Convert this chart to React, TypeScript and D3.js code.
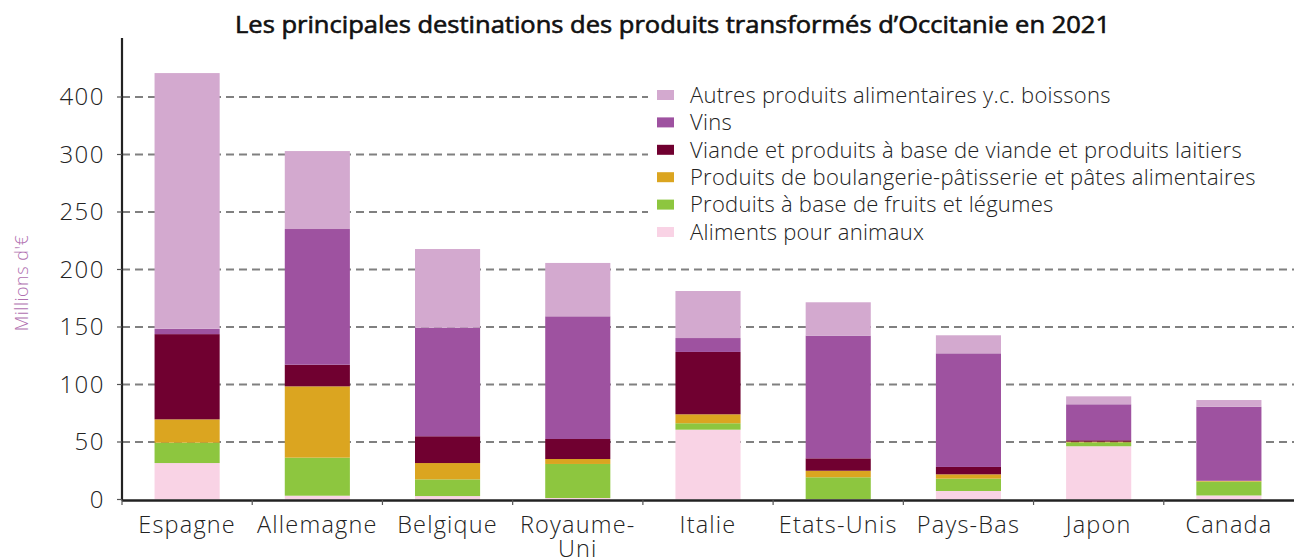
import React from "react";
import * as d3 from "d3";

const categories = ["Espagne", "Allemagne", "Belgique", "Royaume-Uni", "Italie", "Etats-Unis", "Pays-Bas", "Japon", "Canada"];
const categoryLabels = [["Espagne"], ["Allemagne"], ["Belgique"], ["Royaume-", "Uni"], ["Italie"], ["Etats-Unis"], ["Pays-Bas"], ["Japon"], ["Canada"]];

const seriesNames = [
  "Aliments pour animaux",
  "Produits à base de fruits et légumes",
  "Produits de boulangerie-pâtisserie et pâtes alimentaires",
  "Viande et produits à base de viande et produits laitiers",
  "Vins",
  "Autres produits alimentaires y.c. boissons",
];
const seriesColors = ["#f9d3e5", "#8dc63f", "#dba520", "#700030", "#9e52a0", "#d3a9cf"];

const aliments = [31.7, 3.3, 3, 1.3, 60.7, 0.3, 7.4, 46.3, 3.5];
const fruits = [17.7, 33.1, 14.5, 29.6, 5.6, 19.0, 10.7, 3.4, 12.1];
const boulangerie = [20.3, 62.0, 14.2, 4.3, 7.8, 5.7, 3.8, 0.6, 0.5];
const viande = [74.1, 18.8, 23.3, 17.4, 54.2, 10.8, 6.4, 1.2, 0.2];
const vins = [4.7, 118.0, 94.4, 106.7, 12.1, 106.7, 98.8, 31.3, 64.4];
const autres = [222.3, 67.8, 68.4, 46.4, 40.9, 29.0, 15.7, 6.9, 5.8];

const yTicks = [0, 50, 100, 150, 200, 250, 300, 350];
const yTickLabels = ["0", "50", "100", "150", "200", "250", "300", "400"];

const title = "Les principales destinations des produits transformés d’Occitanie en 2021";
const yTitle = "Millions d'€";

const W = 1294, H = 557;
const FONT = "'Open Sans', 'Noto Sans', sans-serif";

export default function App() {
  const series = [aliments, fruits, boulangerie, viande, vins, autres];
  const rows = categories.map((c, i) => {
    const r: any = { cat: c };
    seriesNames.forEach((s, k) => (r[s] = series[k][i]));
    return r;
  });
  const stacked = d3.stack().keys(seriesNames)(rows);

  const x = d3.scaleBand().domain(categories).range([122, 1294]).paddingInner(0.5).paddingOuter(0.25);
  const y = d3.scaleLinear().domain([0, 400]).range([499.5, 39.5]);
  const step = x.step();
  const x0 = 122;

  const legendOrder = [...seriesNames].reverse();
  const legendColors = [...seriesColors].reverse();

  return (
    <svg width={W} height={H} style={{ position: "fixed", left: 0, top: 0, background: "#fff" }} fontFamily={FONT}>
      <text x={235} y={33} fontSize={23} fontWeight={400} fill="#111" stroke="#111" strokeWidth={0.6} textLength={875} lengthAdjust="spacingAndGlyphs">{title}</text>

      {/* gridlines */}
      {yTicks.slice(1).map((t) => (
        <line key={t} x1={x0} x2={W} y1={y(t)} y2={y(t)} stroke="#808080" strokeWidth={2} strokeDasharray="8,5" />
      ))}

      {/* bars */}
      {stacked.map((layer, k) => (
        <g key={layer.key} fill={seriesColors[k]}>
          {layer.map((d, i) => (
            <rect key={i} x={x(categories[i])} width={x.bandwidth()} y={y(d[1])} height={Math.max(0, y(d[0]) - y(d[1]))} />
          ))}
        </g>
      ))}

      {/* y axis */}
      <line x1={x0} x2={x0} y1={38} y2={500.5} stroke="#222" strokeWidth={2.2} />
      {yTicks.map((t, i) => (
        <g key={t}>
          <line x1={x0 - 5} x2={x0} y1={y(t)} y2={y(t)} stroke="#555" strokeWidth={1.2} />
          <text x={105} y={y(t)} dy="0.35em" textAnchor="end" fontSize={24} fontWeight={300} letterSpacing={1.5} fill="#222">{yTickLabels[i]}</text>
        </g>
      ))}

      {/* x axis */}
      <line x1={x0} x2={W} y1={500.5} y2={500.5} stroke="#222" strokeWidth={2.6} />
      {categories.map((c, i) => (
        <line key={"t" + c} x1={x0 + step * i} x2={x0 + step * i} y1={500} y2={505} stroke="#555" strokeWidth={1.2} />
      ))}
      {categories.map((c, i) => (
        <text key={"l" + c} x={(x(c) as number) + x.bandwidth() / 2} y={533} textAnchor="middle" fontSize={23.5} fontWeight={300} letterSpacing={1.2} fill="#222">
          {categoryLabels[i].map((line, j) => (
            <tspan key={j} x={(x(c) as number) + x.bandwidth() / 2} dy={j === 0 ? 0 : 24}>{line}</tspan>
          ))}
        </text>
      ))}

      {/* y title */}
      <text transform="translate(28,283) rotate(-90)" textAnchor="middle" fontSize={18} fontWeight={300} letterSpacing={0.5} fill="#b070b0">{yTitle}</text>

      {/* legend */}
      <rect x={648} y={82} width={W - 648} height={164} fill="#fff" />
      {legendOrder.map((s, i) => (
        <g key={s} transform={`translate(657,${95 + i * 27.4})`}>
          <rect x={0} y={-5} width={17} height={10} fill={legendColors[i]} />
          <text x={33} y={0} dy="0.35em" fontSize={22} fontWeight={300} letterSpacing={0.25} fill="#222">{s}</text>
        </g>
      ))}
    </svg>
  );
}
